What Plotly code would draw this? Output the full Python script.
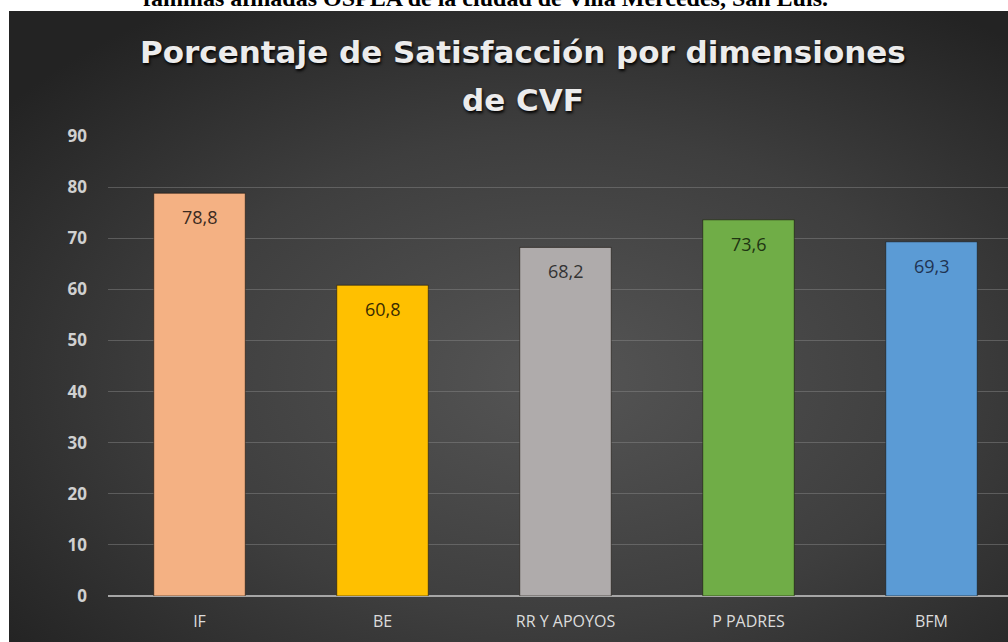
import base64
import plotly.graph_objects as go

categories = ["IF", "BE", "RR Y APOYOS", "P PADRES", "BFM"]
values = [78.8, 60.8, 68.2, 73.6, 69.3]
value_labels = ["78,8", "60,8", "68,2", "73,6", "69,3"]
y_ticks = [0, 10, 20, 30, 40, 50, 60, 70, 80, 90]

bar_colors = ["#F4B183", "#FFC000", "#AFABAB", "#70AD47", "#5B9BD5"]
label_colors = ["#3a2a20", "#3a2c00", "#333333", "#1f3512", "#1f3352"]

# Figure geometry (pixels) -> paper coords
W, H = 1008, 642
L, R, T, B = 108, 0, 136, 46
pw, ph = W - L - R, H - T - B


def px_x(x):
    return (x - L) / pw


def px_y(y):
    return (H - B - y) / ph


svg = """<svg xmlns='http://www.w3.org/2000/svg' width='1000' height='630' preserveAspectRatio='none'>
<defs><radialGradient id='g' cx='55%' cy='58%' r='70%'>
<stop offset='0' stop-color='#555555'/><stop offset='0.55' stop-color='#3e3e3e'/>
<stop offset='1' stop-color='#232323'/></radialGradient></defs>
<rect width='1000' height='630' fill='url(#g)'/></svg>"""
bg_src = "data:image/svg+xml;base64," + base64.b64encode(svg.encode()).decode()

fig = go.Figure()
fig.add_trace(go.Bar(
    x=categories, y=values,
    marker=dict(color=bar_colors, line=dict(color="rgba(20,15,10,0.55)", width=1)),
    width=0.5, hoverinfo="skip",
))

font_main = "Open Sans"
title_font = dict(family="DejaVu Sans", size=31, color="#ececec",
                  shadow="1px 2px 3px #000000")
annotations = []
for c, v, t, col in zip(categories, values, value_labels, label_colors):
    annotations.append(dict(x=c, y=v, xref="x", yref="y", text=t, showarrow=False,
                            yanchor="middle", yshift=-24,
                            font=dict(family=font_main, size=18, color=col)))

# Title
annotations.append(dict(x=px_x(523), y=px_y(52), xref="paper", yref="paper",
                        text="<b>Porcentaje de Satisfacción por dimensiones</b>",
                        showarrow=False, xanchor="center", yanchor="middle",
                        font=title_font))
annotations.append(dict(x=px_x(523), y=px_y(100), xref="paper", yref="paper",
                        text="<b>de CVF</b>",
                        showarrow=False, xanchor="center", yanchor="middle",
                        font=title_font))
# Cut-off header text from the document above the chart
annotations.append(dict(x=px_x(485), y=px_y(-2), xref="paper", yref="paper",
                        text="<b>familias afiliadas OSPLA de la ciudad de Villa Mercedes, San Luis.</b>",
                        showarrow=False, xanchor="center", yanchor="middle",
                        font=dict(family="Liberation Serif", size=24, color="#000000")))

fig.update_layout(
    width=W, height=H,
    margin=dict(l=L, r=R, t=T, b=B),
    paper_bgcolor="#ffffff",
    plot_bgcolor="rgba(0,0,0,0)",
    showlegend=False,
    bargap=0.5,
    annotations=annotations,
    images=[dict(source=bg_src, xref="paper", yref="paper",
                 x=px_x(9), y=px_y(11), sizex=(W - 9) / pw, sizey=(H - 11) / ph,
                 xanchor="left", yanchor="top", sizing="stretch", layer="below")],
    xaxis=dict(range=[-0.5, -0.5 + pw / 183.0], showgrid=False,
               tickfont=dict(family=font_main, size=16, color="#dcdcdc"),
               ticks="", ticklabelstandoff=14, showline=False, zeroline=False,
               fixedrange=True),
    yaxis=dict(range=[0, 90], tickvals=y_ticks, showgrid=True,
               gridcolor="rgba(140,140,140,0.45)", gridwidth=1,
               zeroline=True, zerolinecolor="#a6a6a6", zerolinewidth=2,
               tickfont=dict(family=font_main, size=17, color="#d0d0d0", weight="bold"),
               ticks="", ticklabelstandoff=20, showline=False, fixedrange=True),
)

fig.write_html("out.html", config={"displayModeBar": False},
               post_script="document.body.style.margin='0';document.body.style.overflow='hidden';")
